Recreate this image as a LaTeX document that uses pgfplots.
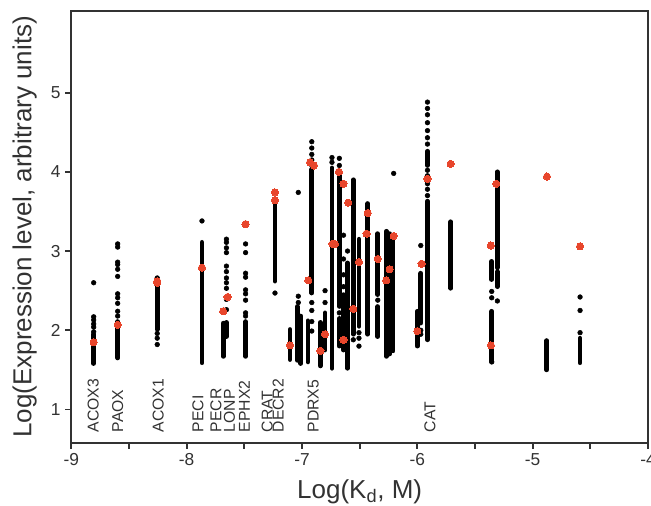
\documentclass[border=0pt]{standalone}
\usepackage{fontspec}
\setmainfont{Liberation Sans}
\usepackage{pgfplots}
\pgfplotsset{compat=1.18}
\usepackage{pgfplotstable}
\definecolor{dotred}{RGB}{232,70,44}
\definecolor{axgray}{RGB}{50,50,50}

% dense runs of dots, drawn as round-capped strokes (nan = break)
\pgfplotstableread{
x y
-8.806 1.58
-8.806 1.95
nan nan
-8.598 1.65
-8.598 2.11
nan nan
-8.255 2.01
-8.255 2.62
nan nan
-7.867 1.59
-7.867 3.11
nan nan
-7.683 1.67
-7.683 2.09
nan nan
-7.655 1.92
-7.655 2.10
nan nan
-7.489 1.67
-7.489 2.11
nan nan
-7.234 2.62
-7.234 3.59
nan nan
-7.104 1.63
-7.104 2.01
nan nan
-7.040 1.62
-7.040 2.30
nan nan
-7.010 1.58
-7.010 2.18
nan nan
-6.949 1.60
-6.949 2.12
nan nan
-6.915 2.47
-6.915 4.03
nan nan
-6.840 1.55
-6.840 2.10
nan nan
-6.800 1.75
-6.800 2.22
nan nan
-6.740 1.52
-6.740 4.05
nan nan
-6.676 2.30
-6.676 4.00
nan nan
-6.676 1.80
-6.676 2.15
nan nan
-6.640 1.75
-6.640 2.45
nan nan
-6.605 1.52
-6.605 2.85
nan nan
-6.555 1.95
-6.555 3.90
nan nan
-6.506 2.05
-6.506 3.15
nan nan
-6.430 1.95
-6.430 3.60
nan nan
-6.343 1.92
-6.343 2.30
nan nan
-6.343 2.45
-6.343 3.22
nan nan
-6.268 1.67
-6.268 3.25
nan nan
-6.240 1.70
-6.240 3.22
nan nan
-6.210 1.74
-6.210 3.20
nan nan
-6.000 1.80
-6.000 2.24
nan nan
-5.970 2.09
-5.970 2.72
nan nan
-5.912 1.88
-5.912 3.63
nan nan
-5.912 4.08
-5.912 4.26
nan nan
-5.710 2.53
-5.710 3.37
nan nan
-5.355 1.61
-5.355 2.24
nan nan
-5.355 2.64
-5.355 2.87
nan nan
-5.306 2.79
-5.306 4.00
nan nan
-5.306 2.55
-5.306 2.74
nan nan
-4.878 1.50
-4.878 1.87
nan nan
-4.589 1.59
-4.589 1.90
}\runs

% single black dots
\pgfplotstableread{
x y
-8.806 1.98
-8.806 2.04
-8.806 2.08
-8.806 2.13
-8.806 2.17
-8.806 2.60
-8.598 2.18
-8.598 2.24
-8.598 2.34
-8.598 2.41
-8.598 2.46
-8.598 2.68
-8.598 2.77
-8.598 2.83
-8.598 2.86
-8.598 3.05
-8.598 3.09
-8.255 1.82
-8.255 1.90
-8.255 1.96
-8.255 2.66
-7.867 3.38
-7.655 2.26
-7.655 2.39
-7.655 2.53
-7.655 2.60
-7.655 2.66
-7.655 2.74
-7.655 2.81
-7.655 2.98
-7.655 3.04
-7.655 3.11
-7.655 3.15
-7.489 2.18
-7.489 2.22
-7.489 2.38
-7.489 2.46
-7.489 2.51
-7.489 2.67
-7.489 2.72
-7.489 2.98
-7.489 3.09
-7.234 2.47
-7.032 3.74
-7.032 2.35
-7.032 2.43
-6.915 4.08
-6.915 4.15
-6.915 4.22
-6.915 4.30
-6.915 4.38
-6.915 2.35
-6.915 2.25
-6.915 2.11
-6.915 1.99
-6.800 2.35
-6.800 2.50
-6.740 4.12
-6.740 4.18
-6.676 4.08
-6.676 4.17
-6.676 2.22
-6.640 2.55
-6.640 2.70
-6.640 2.90
-6.640 3.20
-6.605 3.00
-6.555 1.88
-6.506 1.80
-6.506 1.90
-6.506 1.97
-6.343 2.38
-6.205 3.98
-5.970 3.07
-5.970 1.95
-5.970 2.00
-5.912 3.70
-5.912 3.78
-5.912 3.85
-5.912 3.95
-5.912 4.02
-5.912 4.35
-5.912 4.43
-5.912 4.52
-5.912 4.62
-5.912 4.72
-5.912 4.80
-5.912 4.88
-5.355 2.49
-5.355 2.41
-5.355 1.60
-5.306 2.37
-4.589 2.42
-4.589 2.25
-4.589 1.97
}\dots

% highlighted (red) points
\pgfplotstableread{
x y
-8.806 1.85
-8.598 2.07
-8.255 2.60
-8.255 2.62
-7.867 2.79
-7.683 2.24
-7.645 2.42
-7.489 3.34
-7.234 3.74
-7.234 3.64
-7.104 1.81
-6.945 2.63
-6.930 4.12
-6.896 4.08
-6.840 1.74
-6.800 1.95
-6.735 3.09
-6.715 3.09
-6.680 4.00
-6.640 3.85
-6.640 1.88
-6.600 3.61
-6.555 2.27
-6.506 2.86
-6.430 3.48
-6.440 3.22
-6.343 2.90
-6.270 2.63
-6.240 2.77
-6.205 3.19
-6.000 1.99
-5.963 2.84
-5.912 3.91
-5.711 4.10
-5.362 3.07
-5.362 1.81
-5.315 3.85
-4.876 3.94
-4.589 3.06
}\reds

\begin{document}
\begin{tikzpicture}
\begin{axis}[
    scale only axis,
    width=432.75pt,
    height=324pt,
    xmin=-9, xmax=-4,
    ymin=0.58, ymax=6.03,
    axis line style={axgray, line width=1.5pt},
    every tick/.style={axgray, line width=1.5pt},
    tick align=outside,
    major tick length=4.5pt,
    minor tick length=4.5pt,
    xtick pos=bottom,
    ytick pos=left,
    xtick={-9,-8,-7,-6,-5,-4},
    xticklabels={-9,-8,-7,-6,-5,-4},
    minor xtick={-8.5,-7.5,-6.5,-5.5,-4.5},
    ytick={1,2,3,4,5},
    yticklabels={1,2,3,4,5},
    tick label style={font=\fontsize{13}{15}\selectfont, text=axgray},
    xlabel={Log(K\textsubscript{d}, M)},
    ylabel={Log(Expression level, arbitrary units)},
    label style={font=\fontsize{19.5}{23}\selectfont, text=axgray},
    y label style={at={(axis description cs:-0.081,0.5)}, anchor=center},
    x label style={at={(axis description cs:0.5,-0.075)}, anchor=north},
    clip=false,
]
\addplot[black, line width=3.5pt, line cap=round, unbounded coords=jump] table[x=x, y=y] {\runs};
\addplot[only marks, mark=*, mark size=1.75pt, black] table[x=x, y=y] {\dots};
\addplot[only marks, mark=*, mark size=2.7pt, color=dotred, mark options={draw=dotred, fill=dotred, line width=0pt}] table[x=x, y=y] {\reds};

\begin{scope}[every node/.style={rotate=90, anchor=west, inner sep=0pt, font=\fontsize{11.8}{13}\selectfont, text=axgray}]
\node at (axis cs:-8.809,0.71) {ACOX3};
\node at (axis cs:-8.598,0.71) {PAOX};
\node at (axis cs:-8.246,0.71) {ACOX1};
\node at (axis cs:-7.901,0.71) {PECI};
\node at (axis cs:-7.746,0.71) {PECR};
\node at (axis cs:-7.629,0.71) {LONP};
\node at (axis cs:-7.500,0.71) {EPHX2};
\node at (axis cs:-7.301,0.71) {CRAT};
\node at (axis cs:-7.206,0.71) {DECR2};
\node at (axis cs:-6.902,0.71) {PDRX5};
\node at (axis cs:-5.890,0.71) {CAT};
\end{scope}
\end{axis}
\pgfresetboundingbox
\path[use as bounding box] ([xshift=-53.5pt, yshift=-47pt]current axis.south west) rectangle ([xshift=2.25pt, yshift=8.25pt]current axis.north east);
\end{tikzpicture}
\end{document}
